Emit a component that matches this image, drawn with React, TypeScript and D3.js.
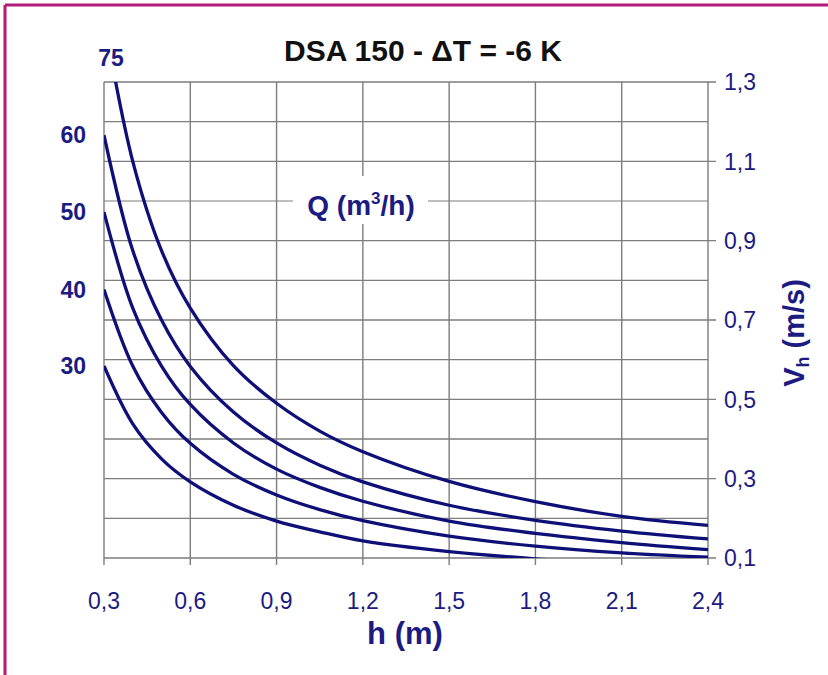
import React from "react";
import * as d3 from "d3";

const title = "DSA 150 - \u0394T = -6 K";
const hValues = [0.3, 0.4, 0.5, 0.6, 0.75, 0.9, 1.05, 1.2, 1.5, 1.8, 2.1, 2.4];
const q75 = [1.46, 1.1, 0.875, 0.73, 0.585, 0.49, 0.42, 0.368, 0.293, 0.242, 0.205, 0.182];
const q60 = [1.166, 0.875, 0.7, 0.583, 0.468, 0.39, 0.334, 0.292, 0.233, 0.195, 0.168, 0.148];
const q50 = [0.972, 0.73, 0.584, 0.487, 0.39, 0.324, 0.278, 0.243, 0.193, 0.162, 0.139, 0.121];
const q40 = [0.777, 0.584, 0.467, 0.389, 0.311, 0.259, 0.222, 0.194, 0.155, 0.13, 0.113, 0.102];
const q30 = [0.584, 0.438, 0.35, 0.292, 0.233, 0.193, 0.166, 0.143, 0.116, 0.098, 0.085, 0.074];
const seriesNames = ["75", "60", "50", "40", "30"];
const seriesValues = [q75, q60, q50, q40, q30];
const xTicks = [0.3, 0.6, 0.9, 1.2, 1.5, 1.8, 2.1, 2.4];
const yGrid = [0.1, 0.2, 0.3, 0.4, 0.5, 0.6, 0.7, 0.8, 0.9, 1.0, 1.1, 1.2, 1.3];
const yTicks = [0.1, 0.3, 0.5, 0.7, 0.9, 1.1, 1.3];

const fmt = (v: number) => v.toFixed(1).replace(".", ",");

export default function App() {
  const W = 828, H = 675;
  const x = d3.scaleLinear().domain([0.3, 2.4]).range([104, 708]);
  const y = d3.scaleLinear().domain([0.1, 1.3]).range([558, 82]);
  const line = d3
    .line<number>()
    .x((_, i) => x(hValues[i]))
    .y((d) => y(d))
    .curve(d3.curveCatmullRom.alpha(0.5));
  const navy = "#0f0f78";
  const textNavy = "#1b1b82";
  const grid = "#7d7d7d";
  const font = "'Liberation Sans', Arial, sans-serif";
  return (
    <svg width={W} height={H} style={{ position: "absolute", left: 0, top: 0, background: "#fff" }} fontFamily={font}>
      <rect x={0} y={0} width={W} height={H} fill="#fff" />
      <line x1={5} y1={5} x2={W + 5} y2={5} stroke="#b41a78" strokeWidth={3} />
      <line x1={5} y1={5} x2={5} y2={H + 5} stroke="#b41a78" strokeWidth={3} />
      <defs>
        <clipPath id="plot">
          <rect x={x(0.3)} y={y(1.3)} width={x(2.4) - x(0.3)} height={y(0.1) - y(1.3)} />
        </clipPath>
      </defs>
      {yGrid.map((v) => (
        <line key={"h" + v} x1={x(0.3)} x2={yTicks.some((t) => Math.abs(t - v) < 1e-9) ? x(2.4) + 8 : x(2.4)} y1={y(v)} y2={y(v)}
          stroke={Math.abs(v - 1.0) < 1e-9 ? "#a8a8a8" : grid} strokeWidth={1.4} />
      ))}
      {xTicks.map((v) => (
        <line key={"v" + v} x1={x(v)} x2={x(v)} y1={y(1.3)} y2={y(0.1) + 7} stroke={grid} strokeWidth={1.4} />
      ))}
      <g clipPath="url(#plot)">
        {seriesValues.map((vals, i) => (
          <path key={seriesNames[i]} d={line(vals) || ""} fill="none" stroke={navy} strokeWidth={3.3} />
        ))}
      </g>
      <rect x={293} y={176} width={135} height={48} fill="#fff" />
      <text x={361} y={215} textAnchor="middle" fontSize={28} fontWeight="bold" fill={textNavy}>
        Q (m<tspan fontSize={17} dy={-11}>3</tspan><tspan dy={11}>/h)</tspan>
      </text>
      <text x={423} y={61} textAnchor="middle" fontSize={30} fontWeight="bold" fill="#111">{title}</text>
      {seriesNames.map((n, i) =>
        i === 0 ? (
          <text key={n} x={111} y={66} textAnchor="middle" fontSize={23} fontWeight="bold" fill={textNavy}>{n}</text>
        ) : (
          <text key={n} x={86} y={y(seriesValues[i][0])} dy="0.35em" textAnchor="end" fontSize={23} fontWeight="bold" fill={textNavy}>{n}</text>
        )
      )}
      {yTicks.map((v) => (
        <text key={"yt" + v} x={724} y={y(v)} dy="0.36em" fontSize={23} fill={textNavy}>{fmt(v)}</text>
      ))}
      {xTicks.map((v) => (
        <text key={"xt" + v} x={x(v)} y={609} textAnchor="middle" fontSize={23} fill={textNavy}>{fmt(v)}</text>
      ))}
      <text x={405} y={644} textAnchor="middle" fontSize={31} fontWeight="bold" fill={textNavy}>h (m)</text>
      <text transform={`translate(804,333) rotate(-90)`} textAnchor="middle" fontSize={29} fontWeight="bold" fill={textNavy}>
        V<tspan fontSize={18} dy={5}>h</tspan><tspan dy={-5}> (m/s)</tspan>
      </text>
    </svg>
  );
}
